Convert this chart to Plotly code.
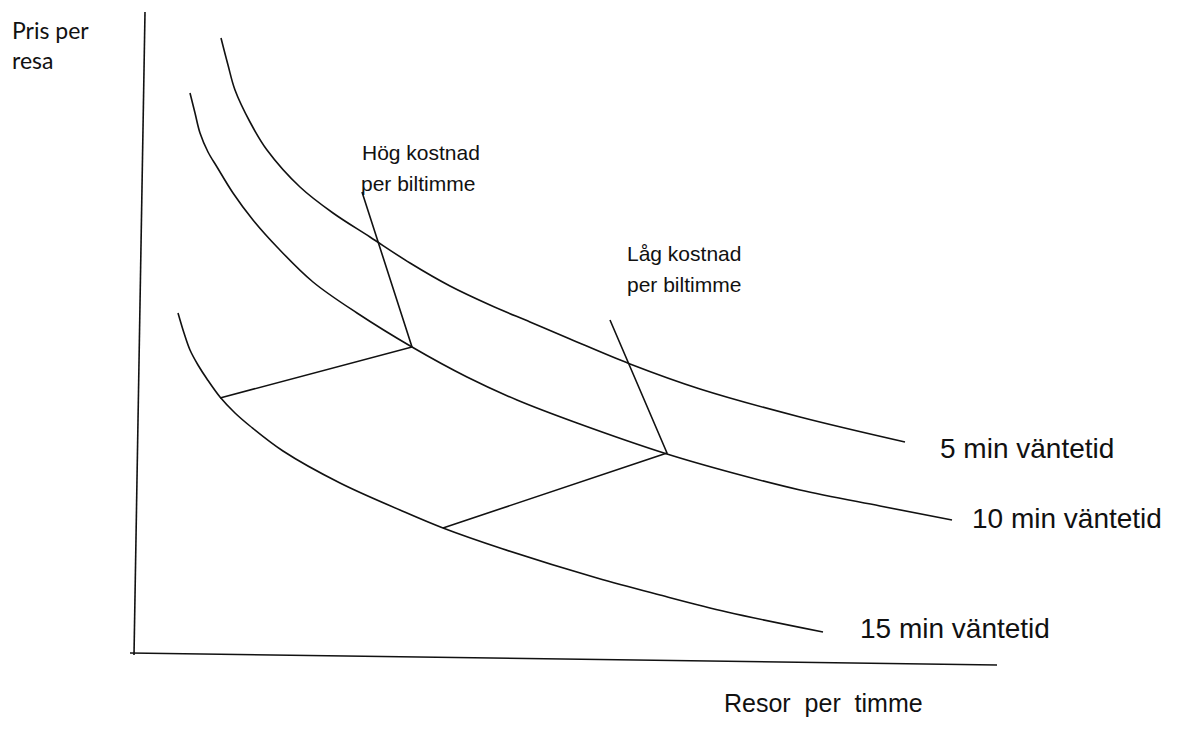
import plotly.graph_objects as go

# Values (arbitrary units, origin at the axes' corner)
curve5_x = [88, 95, 102, 117, 134, 167, 200, 237, 277, 317, 357, 397, 437, 497, 567, 667, 772]
curve5_y = [617, 590, 565, 533, 505, 468, 442, 418, 392, 369, 350, 333, 316, 291, 266, 238, 213]

curve10_x = [57, 62, 67, 75, 84, 100, 120, 145, 180, 224, 279, 334, 384, 444, 534, 600, 667, 747, 819]
curve10_y = [562, 542, 522, 503, 488, 462, 435, 407, 373, 342, 308, 278, 255, 232, 201, 182, 165, 149, 135]

curve15_x = [45, 51, 57, 65, 74, 87, 102, 117, 150, 207, 267, 310, 370, 464, 527, 594, 690]
curve15_y = [342, 322, 305, 290, 276, 258, 242, 229, 204, 172, 145, 127, 106, 77, 60, 43, 23]

hog_x = [229, 279, 87]
hog_y = [463, 308, 257]
lag_x = [477, 534, 310]
lag_y = [335, 202, 127]

yaxis_x = [12, 1]
yaxis_y = [643, 0]
xaxis_x = [-3, 864]
xaxis_y = [2, -10]

curve_labels = ["5 min väntetid", "10 min väntetid", "15 min väntetid"]
label_x = [805, 837, 725]
label_y = [207, 137, 27]

line_color = "#111111"
fig = go.Figure()
for xs, ys, shp in [(yaxis_x, yaxis_y, "linear"), (xaxis_x, xaxis_y, "linear"),
                    (curve5_x, curve5_y, "spline"), (curve10_x, curve10_y, "spline"),
                    (curve15_x, curve15_y, "spline"),
                    (hog_x, hog_y, "linear"), (lag_x, lag_y, "linear")]:
    fig.add_trace(go.Scatter(x=xs, y=ys, mode="lines",
                             line=dict(color=line_color, width=1.6, shape=shp,
                                       **({"smoothing": 1.0} if shp == "spline" else {})),
                             hoverinfo="skip", showlegend=False))

sans = "Liberation Sans, Arial, sans-serif"
geo = "Lato, sans-serif"
ann = []
for t, x, y in zip(curve_labels, label_x, label_y):
    ann.append(dict(text=t, x=x, y=y, xanchor="left", yanchor="middle", showarrow=False,
                    font=dict(family=sans, size=28, color="#111")))
ann += [
    dict(text="Pris per", x=-123, y=625, xanchor="left", yanchor="middle", showarrow=False,
         font=dict(family=geo, size=23, color="#111")),
    dict(text="resa", x=-123, y=595, xanchor="left", yanchor="middle", showarrow=False,
         font=dict(family=geo, size=23, color="#111")),
    dict(text="Hög kostnad", x=227, y=503, xanchor="left", yanchor="middle", showarrow=False,
         font=dict(family=sans, size=21, color="#111")),
    dict(text="per biltimme", x=226, y=472, xanchor="left", yanchor="middle", showarrow=False,
         font=dict(family=sans, size=21, color="#111")),
    dict(text="Låg kostnad", x=492, y=402, xanchor="left", yanchor="middle", showarrow=False,
         font=dict(family=sans, size=21, color="#111")),
    dict(text="per biltimme", x=492, y=371, xanchor="left", yanchor="middle", showarrow=False,
         font=dict(family=sans, size=21, color="#111")),
    dict(text="Resor  per  timme", x=589, y=-48, xanchor="left", yanchor="middle", showarrow=False,
         font=dict(family=sans, size=25, color="#111")),
]

fig.update_layout(
    width=1177, height=736, margin=dict(l=0, r=0, t=0, b=0),
    paper_bgcolor="white", plot_bgcolor="white",
    xaxis=dict(range=[-133, 1044], visible=False, fixedrange=True),
    yaxis=dict(range=[-81, 655], visible=False, fixedrange=True),
    annotations=ann,
)
fig.write_html("out.html", config={"displayModeBar": False},
               post_script="document.body.style.margin='0';document.body.style.overflow='hidden';")
